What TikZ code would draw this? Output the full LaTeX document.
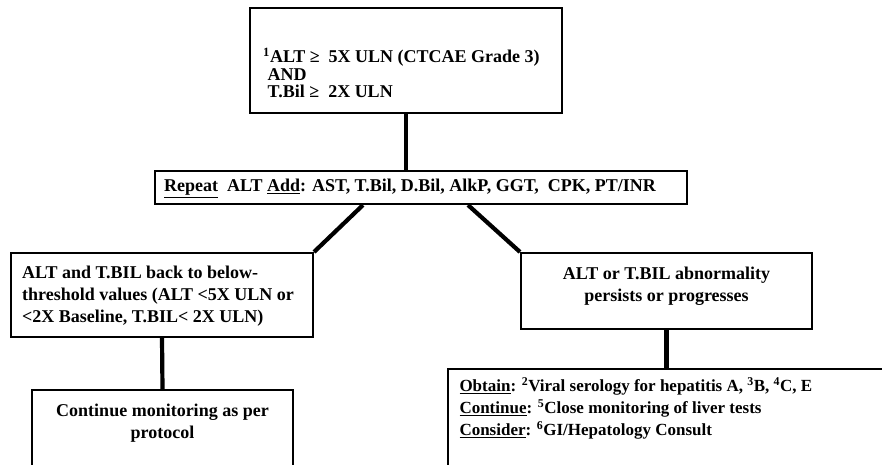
\documentclass[tikz,border=0pt]{standalone}
\usepackage{fontspec}
\setmainfont{Liberation Serif}
\usetikzlibrary{positioning}
\usetikzlibrary{calc}

\begin{document}
\begin{tikzpicture}[x=1pt,y=-1pt,
  box/.style={draw, line width=2pt, inner sep=0pt},
  link/.style={line width=4.2pt},
  txt/.style={inner sep=0pt, font=\bfseries\fontsize{18}{22}\selectfont}]
\useasboundingbox (0,0) rectangle (882,464);
\clip (0,0) rectangle (882,464);

\node (crit) at (406,60.5) [box, minimum width=312pt, minimum height=105pt] {};
\node (crit-txt) at ($(crit.west)+(14,12.5)$) [txt, anchor=west, align=left,
  font=\bfseries\fontsize{18}{17.5}\selectfont]
  {\textsuperscript{1}ALT ≥ \ 5X ULN (CTCAE Grade 3)\\
   \ AND\\
   \ T.Bil ≥ \ 2X ULN};

\node (rep) at (421,187.5) [box, minimum width=532pt, minimum height=33pt] {};
\node (rep-txt) at ($(rep.west)+(10,1)$) [txt, anchor=west]
  {\underline{Repeat}\ \ ALT \underline{Add}: AST, T.Bil, D.Bil, AlkP, GGT, \ CPK, PT/INR};

\node (back) at (162,295) [box, minimum width=302pt, minimum height=84pt] {};
\node (back-txt) at ($(back.west)+(12,1)$) [txt, anchor=west, align=left]
  {ALT and T.BIL back to below-\\
   threshold values (ALT <5X ULN or\\
   <2X Baseline, T.BIL< 2X ULN)};

\node (pers) at (666.5,291) [box, minimum width=291pt, minimum height=76pt] {};
\node (pers-txt) at ($(pers.center)+(0,-5)$) [txt, align=center]
  {ALT or T.BIL abnormality\\persists or progresses};

\node (cont) at (162.5,445) [box, minimum width=261pt, minimum height=110pt] {};
\node (cont-txt) at ($(cont.north)+(0,34)$) [txt, align=center]
  {Continue monitoring as per\\protocol};

\node (obt) at (674,434.5) [box, line width=1.4pt, minimum width=452pt, minimum height=131pt] {};
\node (obt-txt) at ($(obt.north west)+(12,40)$) [txt, anchor=west, align=left,
  font=\bfseries\fontsize{17}{22}\selectfont]
  {\underline{Obtain}: \textsuperscript{2}Viral serology for hepatitis A, \textsuperscript{3}B, \textsuperscript{4}C, E\\
   \underline{Continue}: \textsuperscript{5}Close monitoring of liver tests\\
   \underline{Consider}: \textsuperscript{6}GI/Hepatology Consult};

\draw[link] (crit.south) -- (crit.south |- rep.north);
\draw[link] ([xshift=-58pt]rep.south) -- (back.north east);
\draw[link] ([xshift=47pt]rep.south) -- (pers.north west);
\draw[link] (back.south) -- (cont.north);
\draw[link] (pers.south) -- (pers.south |- obt.north);

\end{tikzpicture}
\end{document}
